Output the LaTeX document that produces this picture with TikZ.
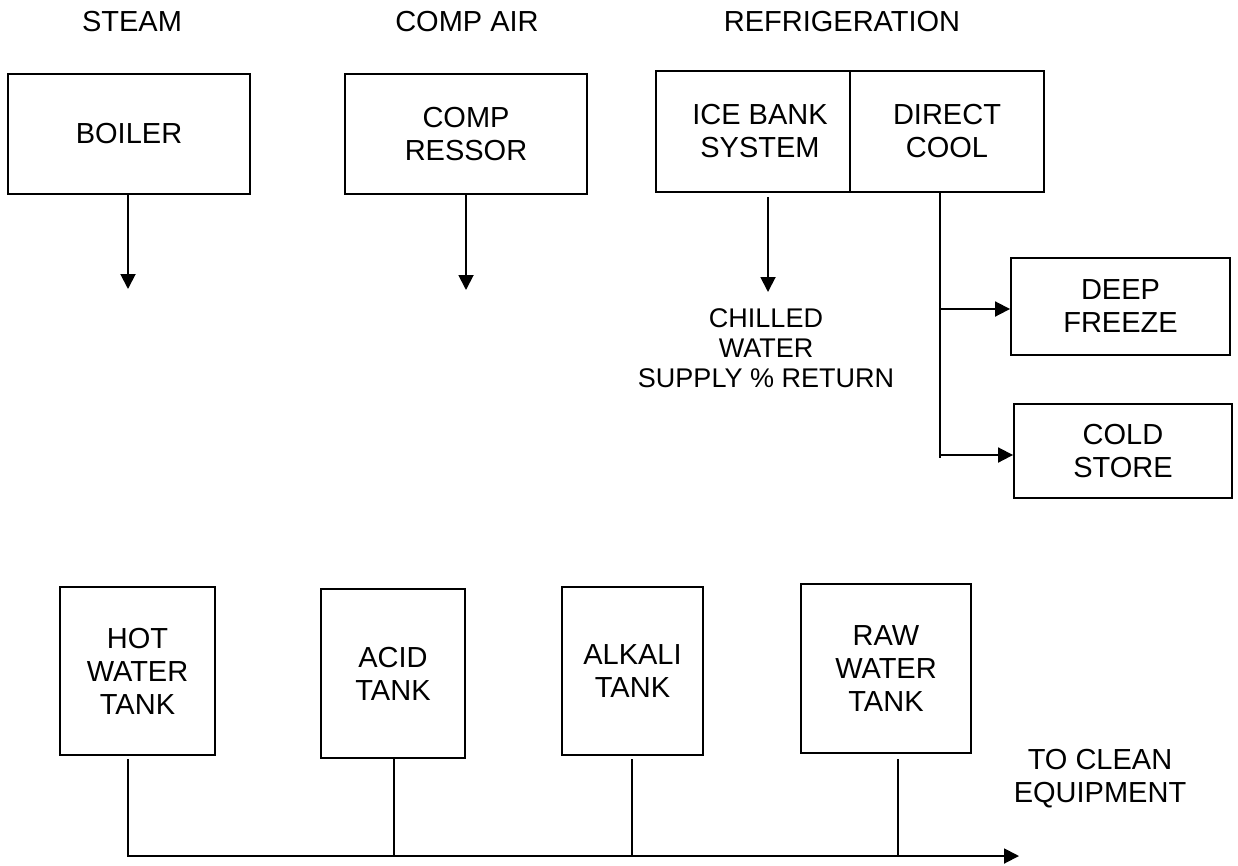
\documentclass[tikz,border=0pt]{standalone}
\usepackage{fontspec}
\setmainfont{Liberation Sans}
\usetikzlibrary{arrows.meta}
\begin{document}
\begin{tikzpicture}[x=1pt,y=-1pt,
  every node/.style={font=\fontsize{29}{33}\selectfont, align=center, inner sep=0pt},
  box/.style={draw, line width=1.9pt},
  conn/.style={line width=1.9pt},
  arr/.style={line width=1.9pt, -{Triangle[length=15pt,width=15pt]}},
  small/.style={font=\fontsize{27}{30}\selectfont}]
\useasboundingbox (0,0) rectangle (1238,865);
% headings
\node (steam) at (132,22) {STEAM};
\node (compair) at (467,22) {COMP AIR};
\node (refr) at (842,22) {REFRIGERATION};
% top boxes
\node[box, minimum width=242pt, minimum height=120pt] (boiler) at (129,134) {BOILER};
\node[box, minimum width=242pt, minimum height=120pt] (comp) at (466,134) {COMP\\RESSOR};
\node[box, minimum width=194pt, minimum height=121pt] (ice) at (753,131.5) {\hspace*{14pt}ICE BANK\\\hspace*{14pt}SYSTEM};
\node[box, minimum width=194pt, minimum height=121pt] (direct) at (947,131.5) {DIRECT\\COOL};
\node[box, minimum width=219pt, minimum height=97pt] (deep) at (1120.5,306.5) {DEEP\\FREEZE};
\node[box, minimum width=218pt, minimum height=94pt] (cold) at (1123,451) {COLD\\STORE};
\node[small] (chilled) at (766,348) {CHILLED\\WATER\\SUPPLY \% RETURN};
% arrows from top boxes
\coordinate (boilerend) at (128,289);
\coordinate (compend) at (466,290);
\coordinate (iceend) at (768,292);
\coordinate (dcend) at (940,458);
\draw[arr] (boiler.south -| boilerend) -- (boilerend);
\draw[arr] (comp.south -| compend) -- (compend);
\draw[arr] ([yshift=-4pt]ice.south -| iceend) -- (iceend);
\draw[conn] (direct.south -| dcend) -- (dcend);
\coordinate (deepbr) at (940,309);
\coordinate (coldbr) at (940,455);
\draw[arr] (deepbr) -- (deep.west |- deepbr);
\draw[arr] (coldbr) -- (cold.west |- coldbr);
% tanks
\node[box, minimum width=155pt, minimum height=168pt] (hot) at (137.5,671) {HOT\\WATER\\TANK};
\node[box, minimum width=144pt, minimum height=169pt] (acid) at (393,673.5) {ACID\\TANK};
\node[box, minimum width=141pt, minimum height=168pt] (alkali) at (632.5,671) {ALKALI\\TANK};
\node[box, minimum width=170pt, minimum height=169pt] (raw) at (886,668.5) {RAW\\WATER\\TANK};
\node (clean) at (1100,779) {TO CLEAN\\EQUIPMENT};
% header line
\coordinate (hs) at (128,856);
\coordinate (he) at (1019,856);
\coordinate (acidx) at (394,856);
\coordinate (alkx) at (632,856);
\coordinate (rawx) at (898,856);
\draw[conn] (hs |- 759,759) -- (hs);
\draw[conn] (acidx |- 759,759) -- (acidx);
\draw[conn] (alkx |- 759,759) -- (alkx);
\draw[conn] (rawx |- 759,759) -- (rawx);
\draw[arr] ([xshift=-0.95pt]hs) -- (he);
\end{tikzpicture}
\end{document}
